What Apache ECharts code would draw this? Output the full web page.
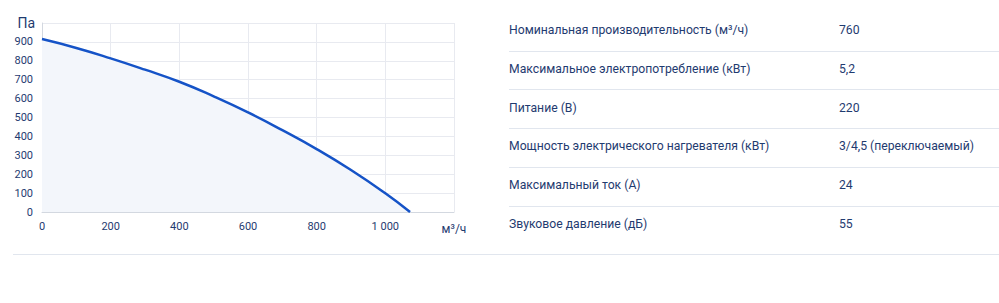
<!DOCTYPE html>
<html><head><meta charset="utf-8">
<script src="https://cdn.jsdelivr.net/npm/echarts@6/dist/echarts.min.js"></script>
<style>html,body{margin:0;padding:0;background:#fff}#c{width:999px;height:303px}</style>
</head><body><div id="c"></div>
<script>
const flowValues = [0, 100, 200, 300, 400, 500, 600, 700, 800, 900, 1000, 1072];
const pressureValues = [915, 868, 813, 753, 689, 612, 527, 433, 333, 222, 99, 0];
const xTicks = [0, 200, 400, 600, 800, 1000, 1200];
const yTicks = [0, 100, 200, 300, 400, 500, 600, 700, 800, 900, 1000];
const specLabels = ['Номинальная производительность (м³/ч)', 'Максимальное электропотребление (кВт)', 'Питание (В)', 'Мощность электрического нагревателя (кВт)', 'Максимальный ток (А)', 'Звуковое давление (дБ)'];
const specValues = ['760', '5,2', '220', '3/4,5 (переключаемый)', '24', '55'];

const textColor = '#1f3b70';
const font = 'Roboto, "Noto Sans", sans-serif';
const chart = echarts.init(document.getElementById('c'), null, {renderer: 'svg'});

const graphics = [];
const rowTop = 12, rowH = 38.7;
specLabels.forEach((lab, i) => {
  const cy = rowTop + rowH * i + rowH / 2;
  graphics.push({type: 'text', left: 509, top: cy - 7, style: {text: lab, fill: textColor, font: '12.2px ' + font}});
  graphics.push({type: 'text', left: 839, top: cy - 7, style: {text: specValues[i], fill: textColor, font: '12.2px ' + font}});
  if (i < specLabels.length - 1) {
    graphics.push({type: 'rect', shape: {x: 509, y: Math.round(rowTop + rowH * (i + 1)), width: 490, height: 1}, style: {fill: '#e1e6ee'}});
  }
});
graphics.push({type: 'rect', shape: {x: 13, y: 254, width: 986, height: 1}, style: {fill: '#e1e6ee'}});

chart.setOption({
  animation: false,
  grid: {left: 42, right: 545, top: 23, bottom: 91},
  xAxis: {
    type: 'value', min: 0, max: 1200, interval: 200,
    name: 'м³/ч', nameLocation: 'end', nameGap: 0,
    nameTextStyle: {color: textColor, fontSize: 12, fontFamily: font, align: 'center', verticalAlign: 'top', padding: [11, 0, 0, 0]},
    axisLine: {lineStyle: {color: '#d3d8e0'}},
    axisTick: {show: false},
    axisLabel: {color: textColor, fontSize: 11, fontFamily: font, margin: 9, showMaxLabel: false,
      formatter: v => v >= 1000 ? String(v).replace(/(\d)(?=(\d{3})+$)/g, '$1 ') : String(v)},
    splitLine: {show: true, lineStyle: {color: '#e8eaf0'}}
  },
  yAxis: {
    type: 'value', min: 0, max: 1000, interval: 100,
    name: 'Па', nameLocation: 'end', nameGap: 0,
    nameTextStyle: {color: textColor, fontSize: 14, fontFamily: font, align: 'right', verticalAlign: 'middle', padding: [0, 7, 0, 0]},
    axisLine: {show: true, lineStyle: {color: '#d3d8e0'}},
    axisTick: {show: false},
    axisLabel: {color: textColor, fontSize: 11, fontFamily: font, margin: 9, showMaxLabel: false},
    splitLine: {show: true, lineStyle: {color: '#e8eaf0'}}
  },
  series: [{
    type: 'line', smooth: true, symbol: 'none',
    data: flowValues.map((x, i) => [x, pressureValues[i]]),
    lineStyle: {color: '#1553c7', width: 2.5},
    areaStyle: {color: '#f3f6fb', opacity: 1}
  }],
  graphic: graphics
});
</script></body></html>
